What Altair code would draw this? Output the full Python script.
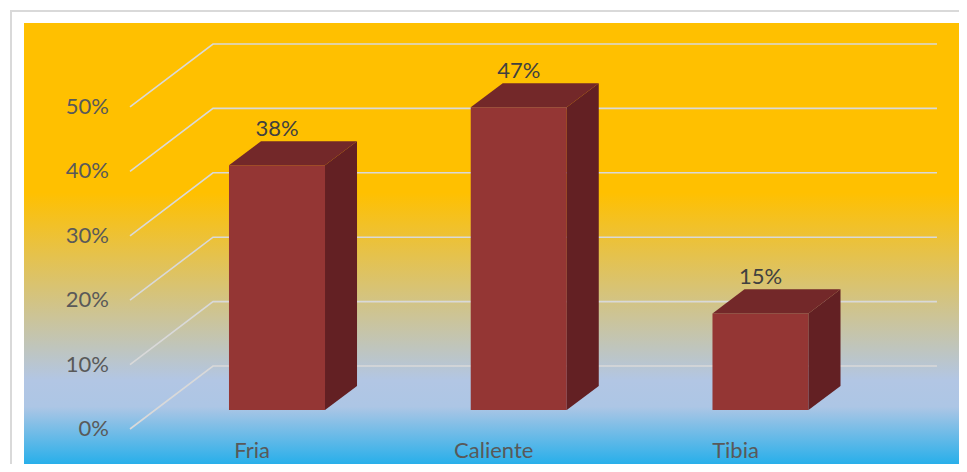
import altair as alt
import pandas as pd

# ---- data ----
categories = ["Fria", "Caliente", "Tibia"]
values = [0.38, 0.47, 0.15]
value_labels = ["38%", "47%", "15%"]
tick_values = [0.0, 0.1, 0.2, 0.3, 0.4, 0.5]
tick_labels = ["0%", "10%", "20%", "30%", "40%", "50%"]

# ---- geometry (in data units of the scales) ----
W, H = 951, 456
X_DOMAIN = [-1.1127, 2.8211]
Y_DOMAIN = [-0.05435, 0.6537]
HW = 0.1986      # half bar width
DX = 0.1324      # depth offset x
DY = 0.0373      # depth offset y
FLOOR = 0.0295   # bar front base above front plane
G_FRONT = -0.608
G_BACK = -0.2647
G_END = 2.730
G_DY = 0.0978
CAT_SHIFT = 0.1034
CAT_Y = -0.0445

xs = alt.Scale(domain=X_DOMAIN, nice=False, zero=False)
ys = alt.Scale(domain=Y_DOMAIN, nice=False, zero=False)
FONT = "Lato"
FS = 22

bars = pd.DataFrame({"name": categories, "i": list(range(len(categories))),
                     "v": values, "label": value_labels})
bars["x0"] = bars["i"] - HW
bars["x1"] = bars["i"] + HW
bars["yb"] = FLOOR
bars["yt"] = bars["v"] + FLOOR
bars["ylab"] = bars["v"] + FLOOR + DY
bars["xcat"] = bars["i"] - CAT_SHIFT
bars["ycat"] = CAT_Y

side_rows, top_rows = [], []
for rec in bars.to_dict("records"):
    side_rows.append({"name": rec["name"], "x": rec["x1"], "y": rec["yb"], "y2": rec["yt"]})
    side_rows.append({"name": rec["name"], "x": rec["x1"] + DX, "y": rec["yb"] + DY, "y2": rec["yt"] + DY})
    top_rows.append({"name": rec["name"], "y": rec["yt"], "x": rec["x0"], "x2": rec["x1"]})
    top_rows.append({"name": rec["name"], "y": rec["yt"] + DY, "x": rec["x0"] + DX, "x2": rec["x1"] + DX})
side = pd.DataFrame(side_rows)
top = pd.DataFrame(top_rows)

grid_rows = []
for t in tick_values:
    grid_rows.append({"t": t, "o": 0, "x": G_FRONT, "y": t})
    grid_rows.append({"t": t, "o": 1, "x": G_BACK, "y": t + G_DY})
    grid_rows.append({"t": t, "o": 2, "x": G_END, "y": t + G_DY})
grid = pd.DataFrame(grid_rows)

ticks = pd.DataFrame({"t": tick_values, "lab": tick_labels})

# ---- layers ----
bg = alt.Chart(alt.Data(values=[{}])).mark_rect(
    fill=alt.Gradient(
        gradient="linear", x1=0, x2=0, y1=0, y2=1,
        stops=[
            alt.GradientStop(color="#FFC000", offset=0.0),
            alt.GradientStop(color="#FFC000", offset=0.385),
            alt.GradientStop(color="#B2C6E4", offset=0.81),
            alt.GradientStop(color="#ADC6E5", offset=0.87),
            alt.GradientStop(color="#28AFEA", offset=1.0),
        ],
    )
).encode(x=alt.value(16), x2=alt.value(W), y=alt.value(15), y2=alt.value(H))

border = alt.Chart(alt.Data(values=[{}])).mark_rect(
    fill="white", fillOpacity=0, stroke="#D9D9D9", strokeWidth=2
).encode(x=alt.value(3), x2=alt.value(W + 20), y=alt.value(3), y2=alt.value(H + 20))

gridlines = alt.Chart(grid).mark_line(color="#D9D9D9", strokeWidth=1.6).encode(
    x=alt.X("x:Q", scale=xs, axis=None),
    y=alt.Y("y:Q", scale=ys, axis=None),
    detail="t:N",
    order="o:Q",
)

ylabels = alt.Chart(ticks).mark_text(
    align="right", baseline="middle", font=FONT, fontSize=FS, color="#595959"
).encode(x=alt.value(101), y=alt.Y("t:Q", scale=ys, axis=None), text="lab:N")

front = alt.Chart(bars).mark_rect(color="#943634").encode(
    x=alt.X("x0:Q", scale=xs, axis=None), x2="x1:Q",
    y=alt.Y("yb:Q", scale=ys, axis=None), y2="yt:Q",
)

side_face = alt.Chart(side).mark_area(color="#632023", orient="vertical").encode(
    x=alt.X("x:Q", scale=xs, axis=None),
    y=alt.Y("y:Q", scale=ys, axis=None), y2="y2:Q",
    detail="name:N",
)

top_face = alt.Chart(top).mark_area(color="#732829", orient="horizontal").encode(
    y=alt.Y("y:Q", scale=ys, axis=None),
    x=alt.X("x:Q", scale=xs, axis=None), x2="x2:Q",
    detail="name:N",
)

data_labels = alt.Chart(bars).mark_text(
    align="center", baseline="middle", dy=-12, font=FONT, fontSize=FS, color="#404040"
).encode(x=alt.X("i:Q", scale=xs, axis=None), y=alt.Y("ylab:Q", scale=ys, axis=None),
         text="label:N")

cat_labels = alt.Chart(bars).mark_text(
    align="center", baseline="alphabetic", font=FONT, fontSize=FS, color="#595959"
).encode(x=alt.X("xcat:Q", scale=xs, axis=None), y=alt.Y("ycat:Q", scale=ys, axis=None),
         text="name:N")

chart = alt.layer(
    bg, border, gridlines, ylabels, front, side_face, top_face, data_labels, cat_labels
).properties(
    width=W, height=H, padding=0, autosize=alt.AutoSizeParams(type="none"),
    background="white",
).configure_view(stroke=None)

chart.save("out.html", embed_options={"renderer": "svg", "actions": False})
